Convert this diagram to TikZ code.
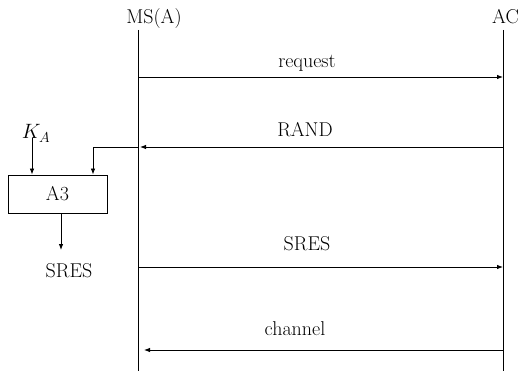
\documentclass[tikz,border=0pt]{standalone}
\usetikzlibrary{arrows.meta}
\begin{document}
\begin{tikzpicture}[x=1pt,y=-1pt,
  every node/.style={font=\fontsize{20}{24}\selectfont, inner sep=0pt},
  lbl/.style={anchor=base},
  life/.style={line width=0.85pt},
  msg/.style={line width=0.85pt, -{Latex[length=6pt,width=4.5pt]}},
  blockbox/.style={draw, line width=0.85pt, minimum width=99pt, minimum height=38pt}]
\useasboundingbox (0,0) rectangle (518,371);

% participants
\node[lbl] (ms) at (154,24) {MS(A)};
\node[lbl, anchor=base west] (ac) at (492,24) {AC};
\coordinate (msTop) at (138,30);
\coordinate (msBot) at (138,371);
\coordinate (acTop) at (503,30);
\coordinate (acBot) at (503,371);
\draw[life] (msTop) -- (msBot);
\draw[life] (acTop) -- (acBot);

% lifeline anchor points of the messages
\coordinate (ms1) at (138,77);  \coordinate (ac1) at (503,77);
\coordinate (ms2) at (140,147); \coordinate (ac2) at (503,147);
\coordinate (ms3) at (138,267); \coordinate (ac3) at (503,267);
\coordinate (ms4) at (144,350); \coordinate (ac4) at (503,350);

% messages
\draw[msg] (ms1) -- (ac1);
\draw[msg] (ac2) -- (ms2);
\draw[msg] (ms3) -- (ac3);
\draw[msg] (ac4) -- (ms4);
\node[lbl] (req)  at (307,68)  {request};
\node[lbl] (rand) at (305,137) {RAND};
\node[lbl] (sres) at (307,250) {SRES};
\node[lbl] (chan) at (295,335) {channel};

% local computation of the response
\node[blockbox] (a3) at (57.5,194) {A3};
\node[lbl] (ka) at (36,139) {$K_A$};
\node[lbl] (sresout) at (69,277) {SRES};
\coordinate (msR) at (138,147);
\coordinate (bend) at (93,147);
\coordinate (kaOut) at (32,138);
\coordinate (resOut) at (61,250);
\draw[msg] (msR) -- (bend) -- (bend |- a3.north);
\draw[msg] (kaOut) -- (kaOut |- a3.north);
\draw[msg] (a3.south -| resOut) -- (resOut);
\end{tikzpicture}
\end{document}
